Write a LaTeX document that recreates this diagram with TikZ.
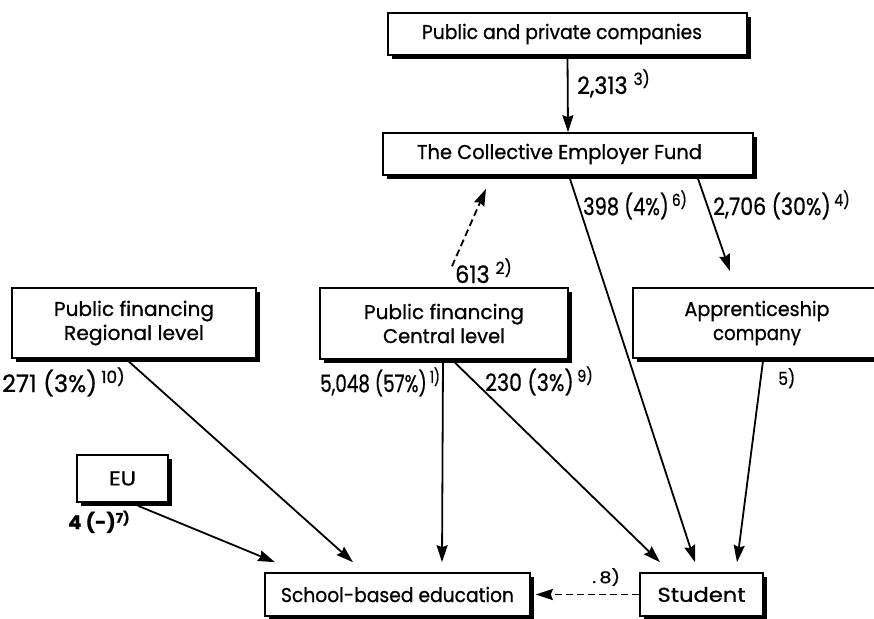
\documentclass[tikz,border=0pt]{standalone}
\usepackage{graphicx}
\usepackage{fontspec}
\setmainfont{Poppins}[FakeBold=0.8]
\usetikzlibrary{arrows.meta,shadows,calc}
\newcommand{\fnote}[1]{\textsuperscript{#1}}
\newcommand{\tw}[2]{\resizebox{#1pt}{\height}{#2}}
\begin{document}
\begin{tikzpicture}[x=1pt,y=-1pt,
  box/.style={draw, line width=1.6pt, fill=white, inner sep=0pt, align=center,
    font=\fontsize{20}{24}\selectfont,
    general shadow={fill=black, shadow xshift=4pt, shadow yshift=-4pt}},
  flow/.style={line width=1.8pt, -{Stealth[length=17pt,width=11pt,inset=2pt]}},
  dflow/.style={flow, dash pattern=on 7pt off 4pt},
  lbl/.style={anchor=base west, inner sep=0pt, font=\fontsize{24}{26}\selectfont}]
\useasboundingbox (0,0) rectangle (874,618);
\clip (0,0) rectangle (874,618);

% boxes
\node[box, minimum width=359pt, minimum height=42pt] (comp) at (567.5,34) {\tw{280}{Public and private companies}\hspace*{11pt}};
\node[box, minimum width=370pt, minimum height=42pt] (fund) at (568,154) {\tw{285}{The Collective Employer Fund}\hspace*{17pt}};
\node[box, minimum width=244pt, minimum height=70pt] (reg) at (134,323) {\tw{160}{Public financing}\\\tw{140}{Regional level}};
\node[box, minimum width=248pt, minimum height=71pt] (cen) at (444,323.5) {\tw{160}{Public financing}\\\tw{122}{Central level}};
\node[box, minimum width=248pt, minimum height=70pt] (app) at (757,323) {\tw{145}{Apprenticeship}\\\tw{88}{company}};
\node[box, minimum width=91pt, minimum height=47pt] (eu) at (122.5,478.5) {\tw{27}{EU}};
\node[box, minimum width=265pt, minimum height=43pt] (school) at (397.5,594.5) {\tw{233}{School-based education}};
\node[box, minimum width=123pt, minimum height=43pt] (student) at (701.5,594.5) {\tw{88}{Student}};

% connectors
\draw[flow] (comp.south) -- (fund.north);
\draw[flow] ([xshift=1pt]fund.south) -- ([xshift=-6.5pt,yshift=10pt]student.north);
\draw[flow] ([xshift=129pt]fund.south) -- ([xshift=-27pt,yshift=16pt]app.north);
\draw[dflow] ([xshift=8pt,yshift=21pt]cen.north) -- ([xshift=-82pt,yshift=-13pt]fund.south);
\draw[flow] ([xshift=-1pt]cen.south) -- ([xshift=44.5pt,yshift=10pt]school.north);
\draw[flow] ([xshift=8pt]cen.south) -- ([xshift=-41.5pt,yshift=10pt]student.north);
\draw[flow] ([xshift=-6pt,yshift=-2pt]reg.south) -- ([xshift=-44.5pt,yshift=10pt]school.north);
\draw[flow] ([xshift=15.5pt,yshift=-3pt]eu.south) -- ([xshift=-122.5pt,yshift=10pt]school.north);
\draw[flow] ([xshift=6pt,yshift=-2pt]app.south) -- ([xshift=35.5pt,yshift=10pt]student.north);
\draw[dflow] (student.west) -- ([xshift=5pt]school.east);

% labels
\node[lbl] (l3) at (577,94) {\tw{73}{2,313 \fnote{3)}}};
\node[lbl] (l6) at (583,215) {\tw{104}{398 (4\%)\,\fnote{6)}}};
\node[lbl] (l4) at (713,215) {\tw{137}{2,706 (30\%)\,\fnote{4)}}};
\node[lbl] (l2) at (455,283) {\tw{57}{613 \fnote{2)}}};
\node[lbl] (l10) at (2,392) {\tw{123}{271 (3\%)\,\fnote{10)}}};
\node[lbl] (l1) at (320,392) {\tw{120}{5,048 (57\%)\,\fnote{1)}}};
\node[lbl] (l9) at (485,391) {\tw{108}{230 (3\%)\,\fnote{9)}}};
\node[lbl, font=\fontsize{18}{20}\selectfont] (l5) at (778,385) {\tw{17}{5)}};
\node[lbl, font=\bfseries\fontsize{19}{22}\selectfont] (l7) at (68,529) {\tw{62}{4 (-)\fnote{7)}}};
\node[lbl, font=\fontsize{16}{18}\selectfont] (l8) at (592,583) {\tw{28}{.\,8)}};
\end{tikzpicture}
\end{document}
